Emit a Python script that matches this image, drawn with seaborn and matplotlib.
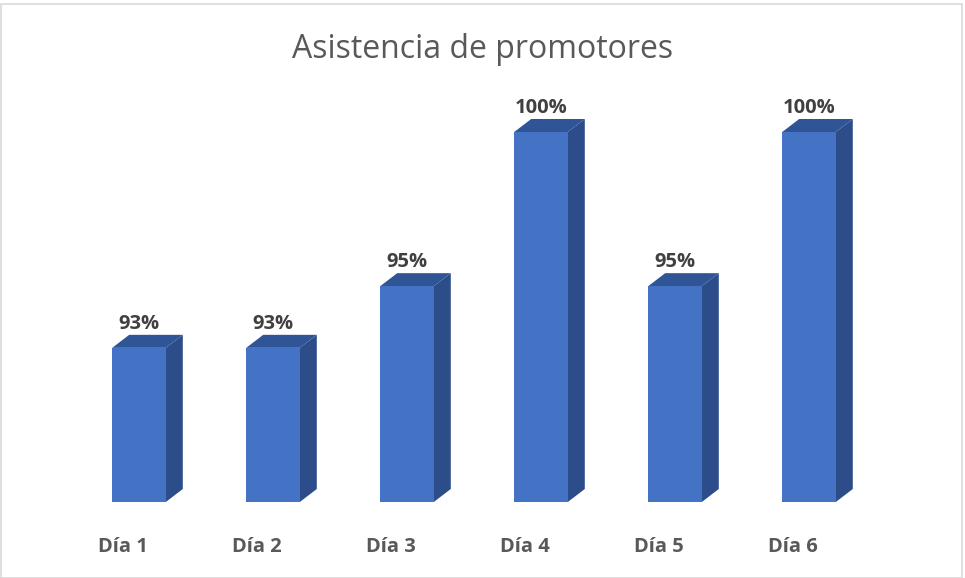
import matplotlib
matplotlib.use("Agg")
import matplotlib.pyplot as plt
import matplotlib.transforms as mtransforms
from matplotlib.patches import Polygon, Rectangle
import seaborn as sns
import pandas as pd

# Attendance per day (percent)
dias = ["Día 1", "Día 2", "Día 3", "Día 4", "Día 5", "Día 6"]
asistencia = [93, 93, 95, 100, 95, 100]

titulo = "Asistencia de promotores"

FRONT = "#4472C4"
SIDE = "#2C4D8A"
TOP = "#2F5597"
BASE = 88.0

sns.set_theme(style="white")
plt.rcParams["font.family"] = ["Open Sans", "DejaVu Sans"]

W, H = 965, 578
fig = plt.figure(figsize=(W / 100, H / 100), dpi=100)
fig.patch.set_facecolor("white")

# axes placed in pixel units
left_px, right_px, top_px, bottom_px = 50, 920, 100, 502
ax = fig.add_axes([left_px / W, (H - bottom_px) / H,
                   (right_px - left_px) / W, (bottom_px - top_px) / H])

df = pd.DataFrame({"dia": dias, "valor": asistencia})
sns.barplot(data=df, x="dia", y="valor", color=FRONT, saturation=1,
            width=0.40, ax=ax, zorder=3, linewidth=0)

step_px = 134.0
x_lo = -(139 - left_px) / step_px
x_hi = (right_px - 139) / step_px
px_per_pct = 370.0 / 12.0
y_hi = 100 + (132 - top_px) / px_per_pct
ax.set_xlim(x_lo, x_hi)
ax.set_ylim(BASE, y_hi)

# depth of the extruded bars, pixels -> data units
dx = 17 / step_px
dy = 13 / px_per_pct
half = 0.20
for i, v in enumerate(asistencia):
    x0, x1 = i - half, i + half
    side = Polygon([(x1, BASE), (x1 + dx, BASE + dy), (x1 + dx, v + dy), (x1, v)],
                   closed=True, facecolor=SIDE, edgecolor="none", zorder=2,
                   clip_on=False)
    top = Polygon([(x0, v), (x0 + dx, v + dy), (x1 + dx, v + dy), (x1, v)],
                  closed=True, facecolor=TOP, edgecolor="none", zorder=2,
                  clip_on=False)
    ax.add_patch(side)
    ax.add_patch(top)
    ax.annotate(f"{v}%", xy=(i, v), xytext=(0, 24), textcoords="offset pixels",
                ha="center", va="center", fontsize=14.5, fontweight="bold",
                color="#404040", zorder=5, annotation_clip=False)

for s in ax.spines.values():
    s.set_visible(False)
ax.set_yticks([])
ax.set_xlabel("")
ax.set_ylabel("")
ax.tick_params(axis="x", length=0, pad=25, labelsize=14.5, labelcolor="#595959")
shift = mtransforms.ScaledTranslation(-16 / 100, 0, fig.dpi_scale_trans)
for lab in ax.get_xticklabels():
    lab.set_fontweight("bold")
    lab.set_transform(lab.get_transform() + shift)

fig.text(483 / W, 1 - 50 / H, titulo, ha="center", va="center",
         fontsize=23, color="#595959")

# light frame around the chart area
fig.patches.append(Rectangle((0.5 / W, 0.5 / H), (W - 4) / W, (H - 4) / H,
                             transform=fig.transFigure, fill=False,
                             edgecolor="#D9D9D9", linewidth=1.2))

fig.savefig("out.png", dpi=100)
